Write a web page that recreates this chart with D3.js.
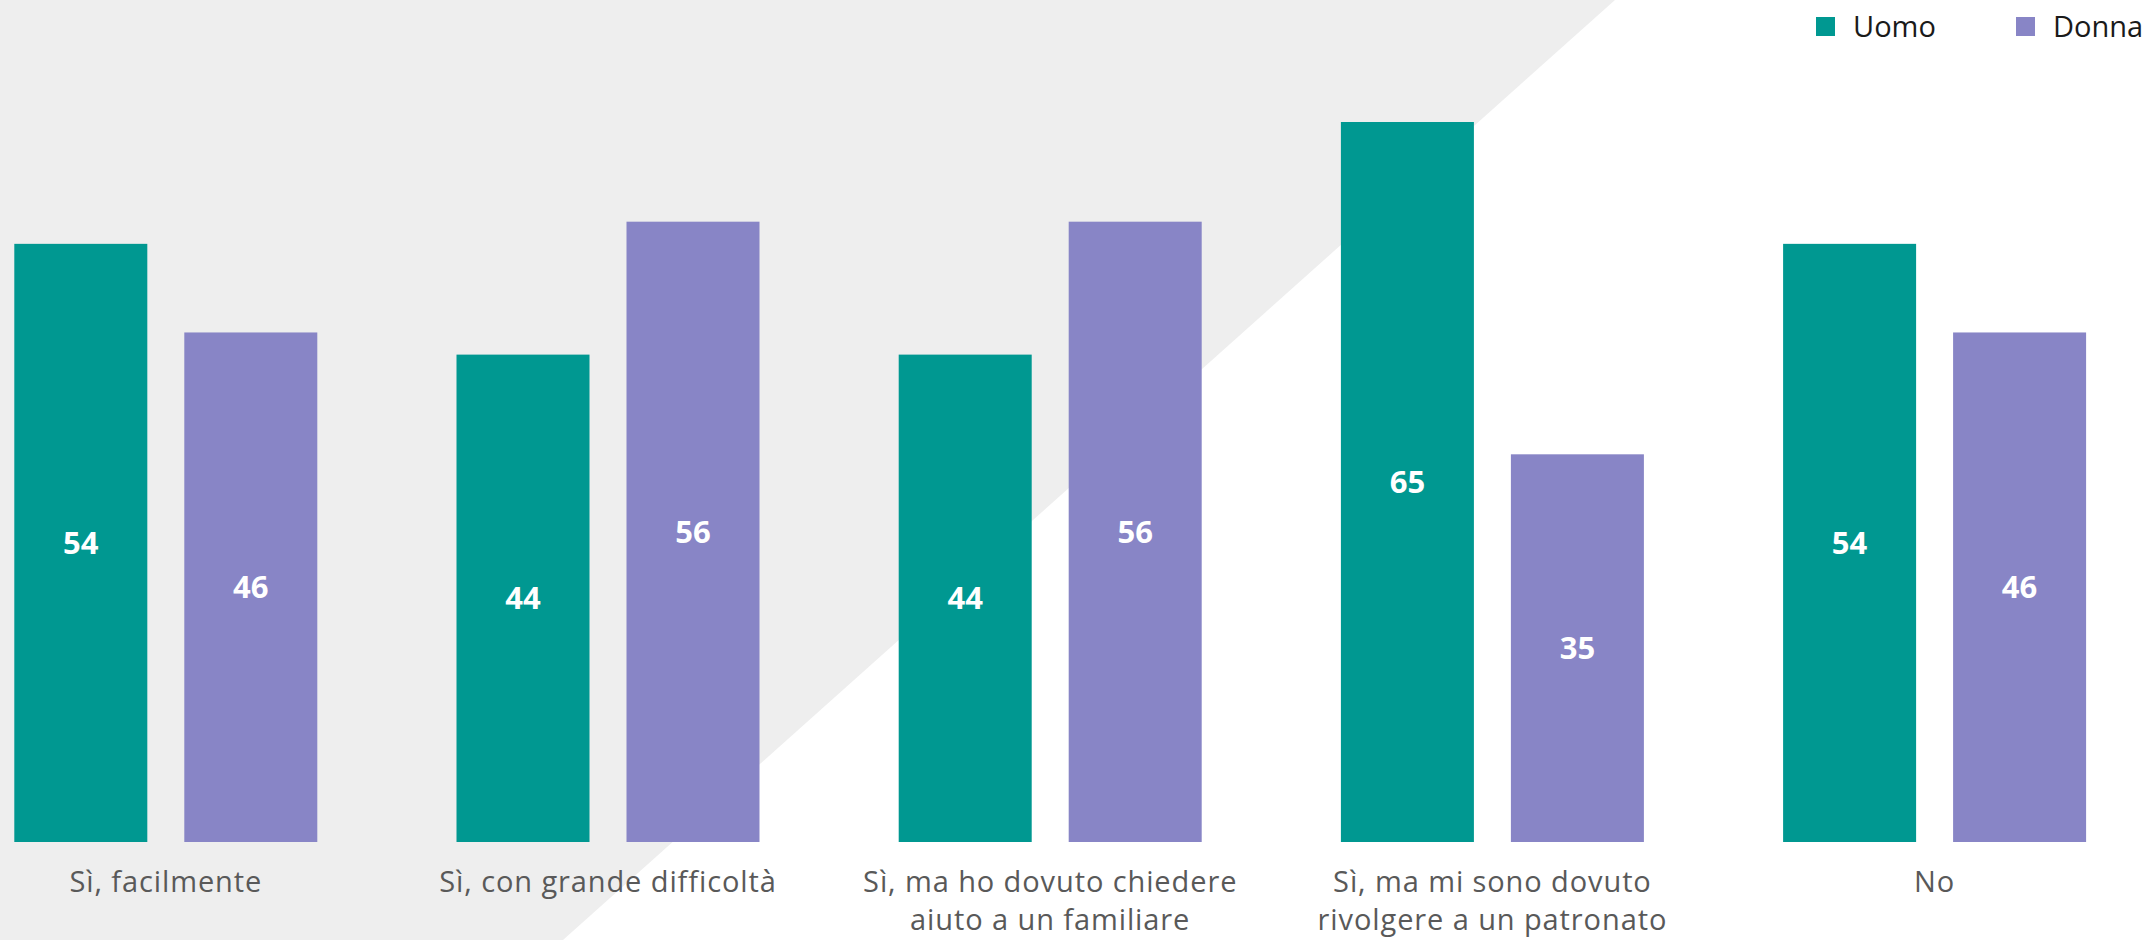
<!DOCTYPE html>
<html>
<head>
<meta charset="utf-8">
<script src="https://cdn.jsdelivr.net/npm/d3@7"></script>
<style>
  html, body { margin: 0; padding: 0; background: #ffffff; }
  svg { display: block; }
</style>
</head>
<body>
<svg id="chart" width="2154" height="940"></svg>
<script>
const categories = [
  ["Sì, facilmente"],
  ["Sì, con grande difficoltà"],
  ["Sì, ma ho dovuto chiedere", "aiuto a un familiare"],
  ["Sì, ma mi sono dovuto", "rivolgere a un patronato"],
  ["No"]
];
const seriesNames = ["Uomo", "Donna"];
const uomo = [54, 44, 44, 65, 54];
const donna = [46, 56, 56, 35, 46];
const colors = { Uomo: "#009891", Donna: "#8885C6" };

const W = 2154, H = 940;
const svg = d3.select("#chart");

// background decoration (grey slanted panel)
svg.append("rect").attr("width", W).attr("height", H).attr("fill", "#ffffff");
svg.append("path")
  .attr("d", d3.line()([[0, 0], [1615, 0], [563, 940], [0, 940]]) + "Z")
  .attr("fill", "#EEEEEE");

const keys = categories.map((c, i) => "c" + i);
const x0 = d3.scaleBand().domain(keys).range([-55.3, 2155.7])
  .paddingInner(0.3148).paddingOuter(0.1574);
const x1 = d3.scaleBand().domain(seriesNames).range([0, x0.bandwidth()])
  .paddingInner(0.2176).paddingOuter(0);
const y = d3.scaleLinear().domain([0, 65]).range([842, 122]);

const rows = categories.map((c, i) => ({ key: keys[i], label: c, Uomo: uomo[i], Donna: donna[i] }));

const g = svg.append("g");
const groups = g.selectAll("g.grp").data(rows).join("g")
  .attr("class", "grp")
  .attr("transform", d => `translate(${x0(d.key)},0)`);

groups.selectAll("rect").data(d => seriesNames.map(s => ({ s, v: d[s] }))).join("rect")
  .attr("x", d => x1(d.s))
  .attr("y", d => y(d.v))
  .attr("width", x1.bandwidth())
  .attr("height", d => y(0) - y(d.v))
  .attr("fill", d => colors[d.s]);

groups.selectAll("text.val").data(d => seriesNames.map(s => ({ s, v: d[s] }))).join("text")
  .attr("class", "val")
  .attr("x", d => x1(d.s) + x1.bandwidth() / 2)
  .attr("y", d => (y(d.v) + y(0)) / 2)
  .attr("dy", "0.36em")
  .attr("text-anchor", "middle")
  .attr("font-family", "'Open Sans', 'DejaVu Sans', sans-serif")
  .attr("font-weight", 700)
  .attr("font-size", 31)
  .attr("fill", "#ffffff")
  .text(d => d.v);

// category labels
groups.each(function(d) {
  const t = d3.select(this).append("text")
    .attr("x", x0.bandwidth() / 2)
    .attr("y", 892)
    .attr("text-anchor", "middle")
    .attr("font-family", "'Open Sans', 'DejaVu Sans', sans-serif")
    .attr("font-size", 29)
    .attr("letter-spacing", 0.9)
    .attr("fill", "#595959");
  d.label.forEach((line, i) => {
    t.append("tspan").attr("x", x0.bandwidth() / 2).attr("y", 892 + i * 38).text(line);
  });
});

// legend
const legendX = { Uomo: 1816, Donna: 2016 };
const lg = svg.append("g");
seriesNames.forEach(s => {
  lg.append("rect").attr("x", legendX[s]).attr("y", 17).attr("width", 19).attr("height", 19)
    .attr("fill", colors[s]);
  lg.append("text").attr("x", legendX[s] + 37).attr("y", 37)
    .attr("font-family", "'Open Sans', 'DejaVu Sans', sans-serif")
    .attr("font-size", 29)
    .attr("fill", "#1a1a1a")
    .text(s);
});
</script>
</body>
</html>
